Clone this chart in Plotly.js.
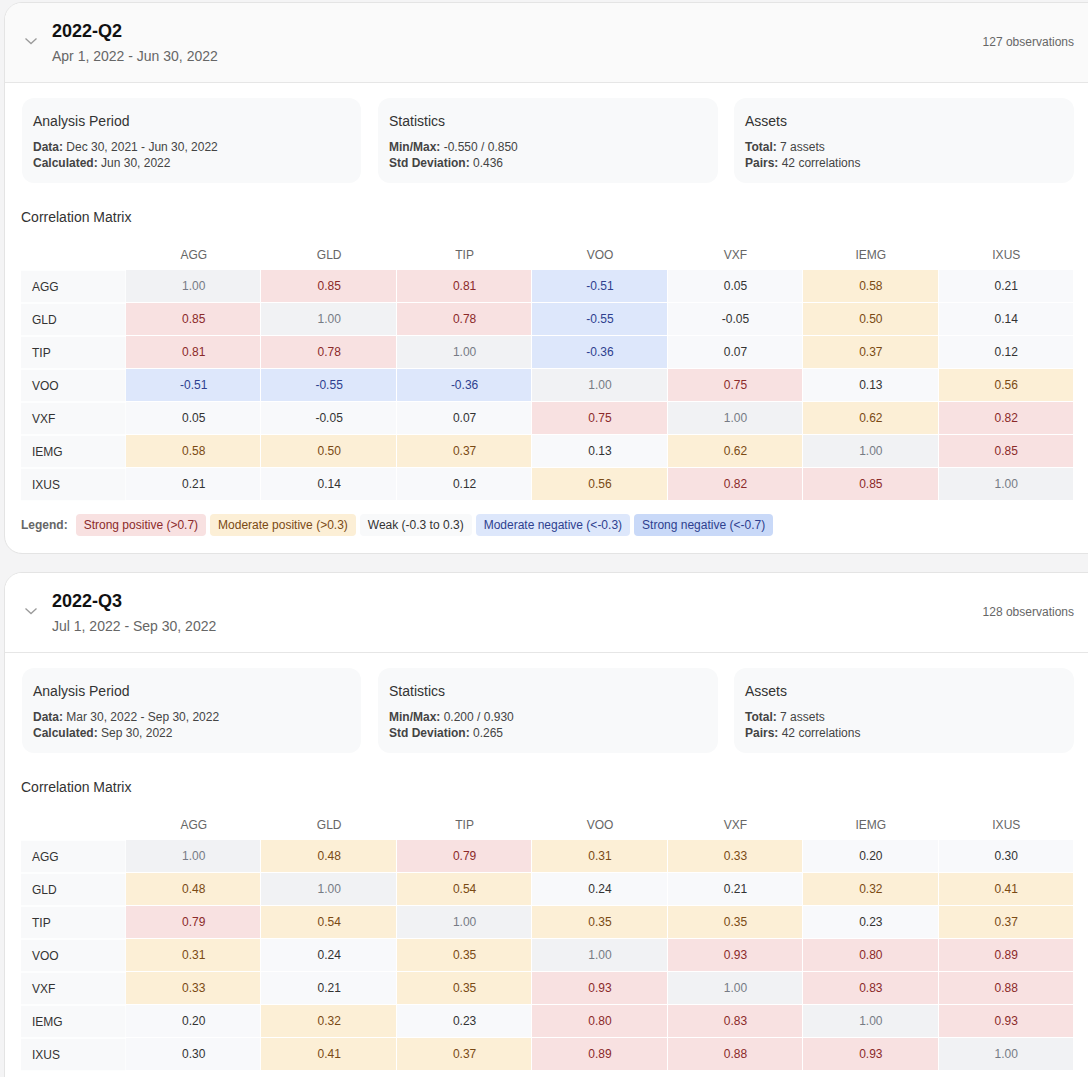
<!DOCTYPE html>
<html>
<head>
<meta charset="utf-8">
<script src="https://cdn.plot.ly/plotly-3.0.1.min.js"></script>
<style>
  html, body { margin:0; padding:0; width:1088px; height:1077px; overflow:hidden; background:#f4f4f5;
    font-family: Arial, "Liberation Sans", sans-serif; color:#333; }
  .abs { position:absolute; white-space:nowrap; }
  .card { position:absolute; left:4px; width:1110px; background:#fff; border:1px solid #e4e4e4; border-radius:18px; overflow:hidden; box-sizing:border-box; }
  .hdr { position:absolute; left:0; top:0; right:0; height:79px; border-bottom:1px solid #e6e6e6; }
  .info { position:absolute; top:98px; height:85px; background:#f8f9fa; border-radius:12px; }
  .info .t { position:absolute; left:11px; top:15px; font-size:14px; color:#333; line-height:16px; }
  .info .l { position:absolute; left:11px; font-size:12px; color:#444; line-height:14px; }
  .info b { color:#444; }
  .pill { display:inline-block; height:22px; line-height:22px; padding:0 8px; border-radius:4px; font-size:12px; margin-right:4px; }
</style>
</head>
<body>
<div id="root"></div>
<script>
// ---------- data ----------
const assets = ["AGG", "GLD", "TIP", "VOO", "VXF", "IEMG", "IXUS"];

const q2Matrix = [
  [ 1.00,  0.85,  0.81, -0.51,  0.05, 0.58, 0.21],
  [ 0.85,  1.00,  0.78, -0.55, -0.05, 0.50, 0.14],
  [ 0.81,  0.78,  1.00, -0.36,  0.07, 0.37, 0.12],
  [-0.51, -0.55, -0.36,  1.00,  0.75, 0.13, 0.56],
  [ 0.05, -0.05,  0.07,  0.75,  1.00, 0.62, 0.82],
  [ 0.58,  0.50,  0.37,  0.13,  0.62, 1.00, 0.85],
  [ 0.21,  0.14,  0.12,  0.56,  0.82, 0.85, 1.00]
];

const q3Matrix = [
  [1.00, 0.48, 0.79, 0.31, 0.33, 0.20, 0.30],
  [0.48, 1.00, 0.54, 0.24, 0.21, 0.32, 0.41],
  [0.79, 0.54, 1.00, 0.35, 0.35, 0.23, 0.37],
  [0.31, 0.24, 0.35, 1.00, 0.93, 0.80, 0.89],
  [0.33, 0.21, 0.35, 0.93, 1.00, 0.83, 0.88],
  [0.20, 0.32, 0.23, 0.80, 0.83, 1.00, 0.93],
  [0.30, 0.41, 0.37, 0.89, 0.88, 0.93, 1.00]
];

const periodTitles = ["2022-Q2", "2022-Q3"];
const periodRanges = ["Apr 1, 2022 - Jun 30, 2022", "Jul 1, 2022 - Sep 30, 2022"];
const observations = [127, 128];
const dataRanges = ["Dec 30, 2021 - Jun 30, 2022", "Mar 30, 2022 - Sep 30, 2022"];
const calculatedDates = ["Jun 30, 2022", "Sep 30, 2022"];
const minMax = ["-0.550 / 0.850", "0.200 / 0.930"];
const stdDevs = ["0.436", "0.265"];
const totalAssets = [7, 7];
const pairCounts = [42, 42];
const legendLabels = ["Strong positive (>0.7)", "Moderate positive (>0.3)", "Weak (-0.3 to 0.3)", "Moderate negative (<-0.3)", "Strong negative (<-0.7)"];

// ---------- styles ----------
// category: 0 diag, 1 strong+, 2 moderate+, 3 weak, 4 moderate-, 5 strong-
const catBg   = ["#f1f2f4", "#f8e1e1", "#fcefd6", "#f8f9fb", "#dde7fb", "#c9d9f8"];
const catText = ["#767b85", "#8b2a2a", "#7a4a14", "#333333", "#2e3f8f", "#2e3f8f"];

function category(v, i, j) {
  if (i === j) return 0;
  if (v > 0.7) return 1;
  if (v > 0.3) return 2;
  if (v < -0.7) return 5;
  if (v < -0.3) return 4;
  return 3;
}

const matrices = [q2Matrix, q3Matrix];
const root = document.getElementById('root');

function el(html) { const d = document.createElement('div'); d.innerHTML = html; return d.firstElementChild; }

matrices.forEach((m, p) => {
  const oy = p * 570;
  const card = el(`<div class="card" style="top:${2 + oy}px;height:${p === 0 ? 552 : 700}px;"></div>`);
  card.appendChild(el(`<div class="hdr" style="background:${p === 0 ? '#fafafa' : '#ffffff'}"></div>`));
  root.appendChild(card);

  // header
  root.appendChild(el(`<svg class="abs" style="left:24px;top:${36 + oy}px" width="14" height="10"><polyline points="1.5,2.5 7,7.5 12.5,2.5" fill="none" stroke="#9a9a9a" stroke-width="1.3"/></svg>`));
  root.appendChild(el(`<div class="abs" style="left:52px;top:${21 + oy}px;font-size:18px;font-weight:bold;color:#111;line-height:20px">${periodTitles[p]}</div>`));
  root.appendChild(el(`<div class="abs" style="left:52px;top:${48 + oy}px;font-size:14px;color:#666;line-height:16px">${periodRanges[p]}</div>`));
  root.appendChild(el(`<div class="abs" style="right:14px;top:${35 + oy}px;font-size:12px;color:#666;line-height:14px">${observations[p]} observations</div>`));

  // info cards
  const infos = [
    ["Analysis Period", `<b>Data:</b> ${dataRanges[p]}`, `<b>Calculated:</b> ${calculatedDates[p]}`, 22, 339],
    ["Statistics", `<b>Min/Max:</b> ${minMax[p]}`, `<b>Std Deviation:</b> ${stdDevs[p]}`, 378, 340],
    ["Assets", `<b>Total:</b> ${totalAssets[p]} assets`, `<b>Pairs:</b> ${pairCounts[p]} correlations`, 734, 340]
  ];
  infos.forEach(inf => {
    root.appendChild(el(`<div class="info" style="left:${inf[3]}px;width:${inf[4]}px;top:${98 + oy}px">
      <div class="t">${inf[0]}</div>
      <div class="l" style="top:42px">${inf[1]}</div>
      <div class="l" style="top:58px">${inf[2]}</div></div>`));
  });

  root.appendChild(el(`<div class="abs" style="left:21px;top:${209 + oy}px;font-size:14px;color:#333;line-height:16px">Correlation Matrix</div>`));

  if (p === 0) {
    let pills = '';
    legendLabels.forEach((lab, k) => {
      const c = k + 1;
      pills += `<span class="pill" style="background:${c === 3 ? '#f8f9fa' : catBg[c]};color:${catText[c]}">${lab.replace(/</g,'&lt;').replace(/>/g,'&gt;')}</span>`;
    });
    root.appendChild(el(`<div class="abs" style="left:21px;top:${514 + oy}px;font-size:12px;line-height:22px"><b style="color:#666;margin-right:8px">Legend:</b>${pills}</div>`));
  }

  // matrix
  const div = el(`<div class="abs" style="left:21px;top:${240 + oy}px;width:1053px;height:262px"></div>`);
  root.appendChild(div);

  const z = m.map((row, i) => row.map((v, j) => category(v, i, j)));
  const n = catBg.length;
  const colorscale = [];
  catBg.forEach((c, k) => { colorscale.push([k / (n - 1), c]); });

  const tx = [], ty = [], tt = [], tc = [];
  m.forEach((row, i) => row.forEach((v, j) => {
    tx.push(assets[j]); ty.push(assets[i]); tt.push(v.toFixed(2)); tc.push(catText[z[i][j]]);
  }));

  const plotW = 948;
  const shapes = assets.map((a, i) => ({
    type: 'rect', xref: 'paper', yref: 'y', x0: -105 / plotW, x1: -0.6 / plotW,
    y0: i - 0.5 + 0.02, y1: i + 0.5 - 0.02, fillcolor: '#f8f9fa', line: { width: 0 }, layer: 'below'
  }));
  const annotations = assets.map(a => ({
    xref: 'paper', yref: 'y', x: -96 / plotW, y: a, xanchor: 'left', yanchor: 'middle',
    text: a, showarrow: false, font: { size: 12, color: '#333', family: 'Arial, Liberation Sans' }
  }));

  Plotly.newPlot(div, [
    { type: 'heatmap', x: assets, y: assets, z: z, zmin: 0, zmax: n - 1, colorscale: colorscale,
      showscale: false, xgap: 1, ygap: 1, hoverinfo: 'skip' },
    { type: 'scatter', mode: 'text', x: tx, y: ty, text: tt,
      textfont: { size: 12, color: tc, family: 'Arial, Liberation Sans' }, hoverinfo: 'skip', showlegend: false }
  ], {
    width: 1053, height: 262,
    margin: { l: 105, r: 0, t: 30, b: 1, pad: 0 },
    paper_bgcolor: '#ffffff', plot_bgcolor: '#ffffff',
    font: { family: 'Arial, Liberation Sans', size: 12, color: '#333' },
    showlegend: false,
    xaxis: { type: 'category', side: 'top', showgrid: false, zeroline: false, showline: false, ticks: '',
      tickfont: { size: 12, color: '#666' }, ticklabelstandoff: 8, fixedrange: true },
    yaxis: { type: 'category', autorange: 'reversed', showgrid: false, zeroline: false, showline: false,
      showticklabels: false, ticks: '', fixedrange: true },
    shapes: shapes, annotations: annotations
  }, { displayModeBar: false, staticPlot: true });
});
</script>
</body>
</html>
